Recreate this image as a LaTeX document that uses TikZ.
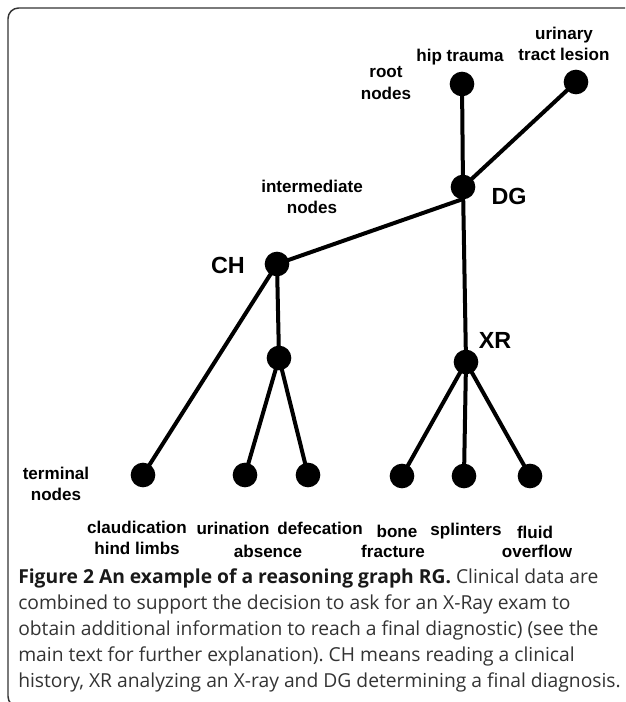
\documentclass[tikz,border=0pt]{standalone}
\usepackage{fontspec}
\setmainfont{Liberation Sans}
\newfontfamily\capfont{Open Sans}
\usetikzlibrary{positioning}
\frenchspacing

\tikzset{
  gnode/.style={circle, fill=black, inner sep=0pt, minimum size=18.5pt},
  edge/.style={line width=3pt, black},
  lbl/.style={font=\bfseries\fontsize{12.8}{16}\selectfont, align=center, inner sep=0pt},
  tag/.style={font=\bfseries\fontsize{17.5}{20}\selectfont, inner sep=0pt}
}

\begin{document}
\begin{tikzpicture}[x=0.75pt, y=-0.75pt]
  \useasboundingbox (0,0) rectangle (625,702);
  % frame
  \begin{scope}
    \clip (0,0) rectangle (625,702);
    \draw[line width=1.1pt, black!80, rounded corners=8pt] (8,8) rectangle (660,707);
  \end{scope}

  % edges
  \coordinate (hipc) at (462,84);
  \coordinate (uric) at (576,82);
  \coordinate (dgc) at (463,187);
  \coordinate (chc) at (277,264);
  \coordinate (midc) at (279,358);
  \coordinate (xrc) at (466,362);
  \draw[edge] (hipc) -- (dgc);
  \draw[edge] (uric) -- (dgc);
  \draw[edge] (463,199) -- (chc);
  \draw[edge] (dgc) -- (xrc);
  \draw[edge] (chc) -- (midc);

  % nodes of the graph
  \node[gnode] (hip) at (hipc) {};
  \node[gnode] (uri) at (uric) {};
  \node[gnode] (dg) at (dgc) {};
  \node[gnode] (ch) at (chc) {};
  \node[gnode] (mid) at (midc) {};
  \node[gnode] (xr) at (xrc) {};
  \node[gnode] (claud) at (143,475) {};
  \node[gnode] (urin) at (245,475) {};
  \node[gnode] (defec) at (308,475) {};
  \node[gnode] (bone) at (402,476) {};
  \node[gnode] (splint) at (464,476) {};
  \node[gnode] (fluid) at (530,476) {};
  \draw[edge] (ch.center) -- (claud.center);
  \draw[edge] (mid.center) -- (urin.center);
  \draw[edge] (mid.center) -- (defec.center);
  \foreach \t in {bone,splint,fluid}
    \draw[edge] (xr.center) -- (\t.center);

  % labels
  \node[tag] (dgl) at (509,196) {DG};
  \node[tag] (chl) at (228,265) {CH};
  \node[tag] (xrl) at (495,340) {XR};
  \node[lbl] (rootl) at (386,83) {root\\nodes};
  \node[lbl] (hipl) at (460,57) {hip trauma};
  \node[lbl] (uril) at (564,44) {urinary\\tract lesion};
  \node[lbl] (interl) at (312,197) {intermediate\\nodes};
  \node[lbl] (terml) at (56,484) {terminal\\nodes};
  \node[lbl] (claudl) at (137,538) {claudication\\hind limbs};
  \node[lbl] (urinl) at (233,528) {urination};
  \node[lbl] (absl) at (268,551) {absence};
  \node[lbl] (defecl) at (320,528) {defecation};
  \node[lbl] (bonel) at (397,531) {bone};
  \node[lbl] (fractl) at (393,551) {fracture};
  \node[lbl] (splintl) at (466,531) {splinters};
  \node[lbl] (fluidl) at (535,532) {fluid};
  \node[lbl] (overl) at (537,551) {overflow};

  % caption
  \node[anchor=base west, inner sep=0pt, align=left, text=black!80,
        font=\capfont\fontsize{14.45}{19.5}\selectfont] (cap) at (18,687)
    {{\bfseries\color{black!90}Figure 2 An example of a reasoning graph RG.} Clinical data are\\
     combined to support the decision to ask for an X-Ray exam to\\
     obtain additional information to reach a final diagnostic) (see the\\
     main text for further explanation). CH means reading a clinical\\
     history, XR analyzing an X-ray and DG determining a final diagnosis.};
\end{tikzpicture}
\end{document}
